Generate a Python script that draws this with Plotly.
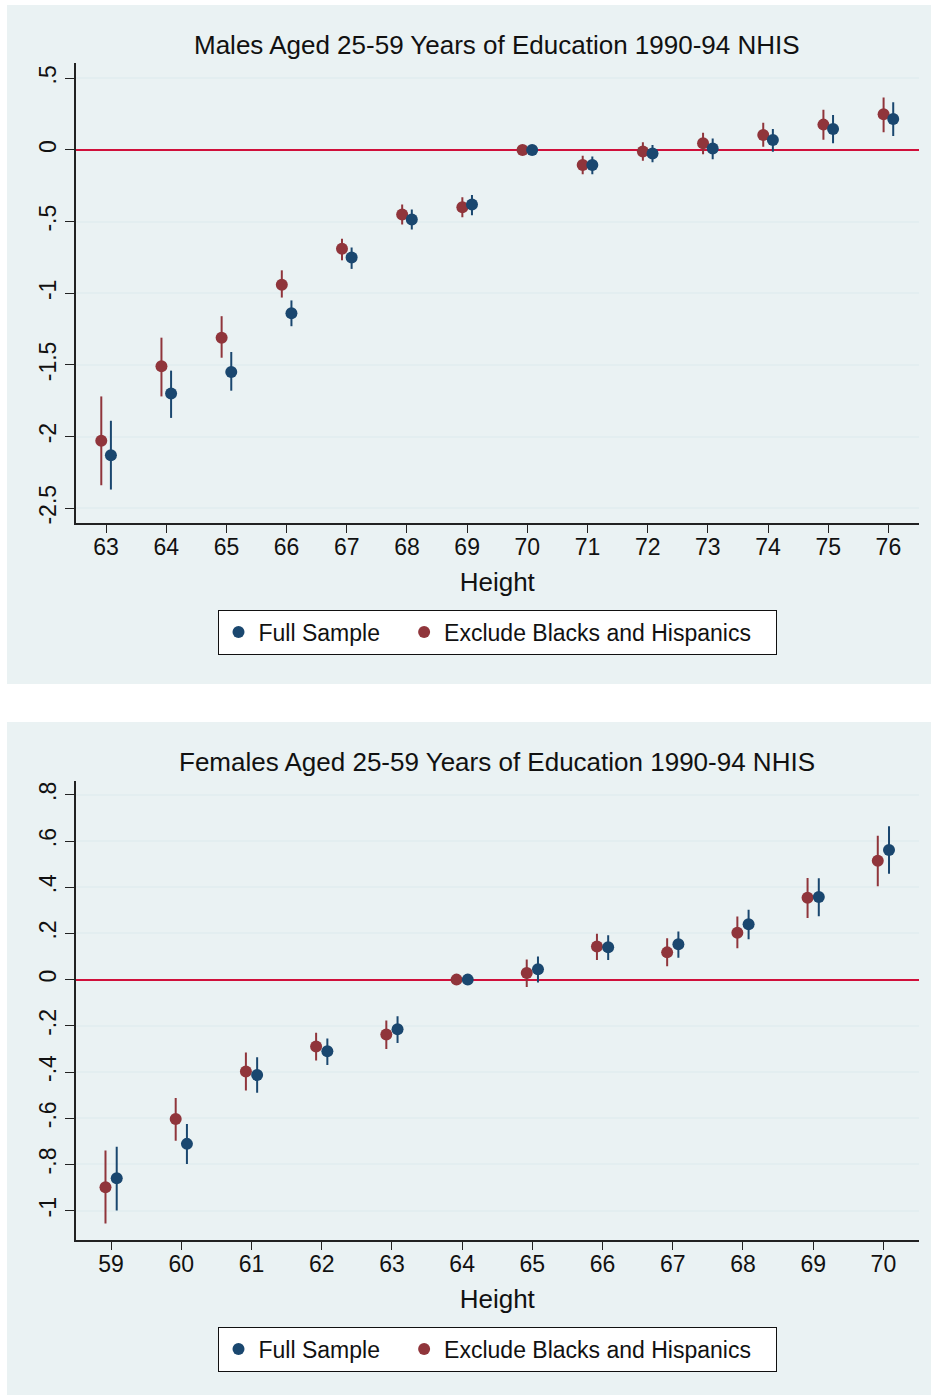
import plotly.graph_objects as go

# ---------------- data ----------------
m_heights = [63, 64, 65, 66, 67, 68, 69, 70, 71, 72, 73, 74, 75, 76]
m_full = [-2.13, -1.70, -1.55, -1.14, -0.75, -0.485, -0.38, 0.0, -0.105, -0.025, 0.01, 0.07, 0.147, 0.217]
m_full_lo = [-2.37, -1.87, -1.68, -1.23, -0.83, -0.555, -0.455, 0.0, -0.17, -0.086, -0.065, -0.012, 0.047, 0.098]
m_full_hi = [-1.89, -1.54, -1.41, -1.05, -0.68, -0.415, -0.315, 0.0, -0.045, 0.035, 0.08, 0.147, 0.245, 0.334]
m_excl = [-2.03, -1.51, -1.31, -0.94, -0.69, -0.45, -0.40, 0.0, -0.105, -0.01, 0.047, 0.105, 0.177, 0.25]
m_excl_lo = [-2.34, -1.72, -1.45, -1.03, -0.77, -0.52, -0.47, 0.0, -0.17, -0.075, -0.03, 0.023, 0.072, 0.124]
m_excl_hi = [-1.72, -1.31, -1.16, -0.84, -0.62, -0.38, -0.33, 0.0, -0.04, 0.054, 0.12, 0.19, 0.28, 0.366]

f_heights = [59, 60, 61, 62, 63, 64, 65, 66, 67, 68, 69, 70]
f_full = [-0.86, -0.711, -0.413, -0.31, -0.215, 0.0, 0.045, 0.14, 0.153, 0.24, 0.358, 0.561]
f_full_lo = [-1.0, -0.798, -0.49, -0.37, -0.274, 0.0, -0.012, 0.085, 0.095, 0.175, 0.274, 0.458]
f_full_hi = [-0.723, -0.625, -0.336, -0.255, -0.159, 0.0, 0.10, 0.192, 0.208, 0.303, 0.439, 0.664]
f_excl = [-0.899, -0.603, -0.398, -0.29, -0.238, 0.0, 0.029, 0.143, 0.118, 0.203, 0.354, 0.515]
f_excl_lo = [-1.056, -0.697, -0.48, -0.35, -0.30, 0.0, -0.032, 0.085, 0.058, 0.136, 0.267, 0.404]
f_excl_hi = [-0.74, -0.512, -0.315, -0.23, -0.177, 0.0, 0.087, 0.199, 0.179, 0.273, 0.44, 0.623]

m_ytick_vals = [0.5, 0, -0.5, -1, -1.5, -2, -2.5]
m_ytick_text = [".5", "0", "-.5", "-1", "-1.5", "-2", "-2.5"]
f_ytick_vals = [0.8, 0.6, 0.4, 0.2, 0, -0.2, -0.4, -0.6, -0.8, -1]
f_ytick_text = [".8", ".6", ".4", ".2", "0", "-.2", "-.4", "-.6", "-.8", "-1"]

series_names = ["Full Sample", "Exclude Blacks and Hispanics"]
titles = ["Males Aged 25-59 Years of Education 1990-94 NHIS",
          "Females Aged 25-59 Years of Education 1990-94 NHIS"]

# ---------------- style ----------------
W, H = 931, 1395
NAVY = "#1a476f"
MAROON = "#90353b"
BG = "#eaf2f3"
GRID = "#e3eef0"
ZERO = "#d0103a"
FONT = "Liberation Sans, Arial, Helvetica, sans-serif"
OFF = 0.08
PAD = "\u00a0\u00a0\u00a0"   # invisible spacing between legend entries


def py(px):
    return 1 - px / H


def px_x(px):
    return px / W


fig = go.Figure()


def add_panel(xs, full, flo, fhi, excl, elo, ehi, xa, ya, legend):
    # red first so blue draws on top
    fig.add_trace(go.Scatter(
        x=[v - OFF for v in xs], y=excl, mode="markers", name=series_names[1] + PAD,
        marker=dict(color=MAROON, size=12),
        error_y=dict(type="data", symmetric=False,
                     array=[h - v for h, v in zip(ehi, excl)],
                     arrayminus=[v - l for l, v in zip(elo, excl)],
                     color=MAROON, thickness=2, width=0),
        xaxis=xa, yaxis=ya, legend=legend, legendrank=2))
    fig.add_trace(go.Scatter(
        x=[v + OFF for v in xs], y=full, mode="markers", name=series_names[0] + PAD,
        marker=dict(color=NAVY, size=12),
        error_y=dict(type="data", symmetric=False,
                     array=[h - v for h, v in zip(fhi, full)],
                     arrayminus=[v - l for l, v in zip(flo, full)],
                     color=NAVY, thickness=2, width=0),
        xaxis=xa, yaxis=ya, legend=legend, legendrank=1))


add_panel(m_heights, m_full, m_full_lo, m_full_hi, m_excl, m_excl_lo, m_excl_hi, "x", "y", "legend")
add_panel(f_heights, f_full, f_full_lo, f_full_hi, f_excl, f_excl_lo, f_excl_hi, "x2", "y2", "legend2")

xdom = [px_x(76), px_x(918.5)]
top_dom = [py(522.5), py(63.3)]
bot_dom = [py(1239.5), py(780.5)]

common_x = dict(showgrid=False, zeroline=False, showline=True, linecolor="#222222", linewidth=1.5,
                ticks="outside", ticklen=9, tickwidth=1.3, tickcolor="#222222",
                ticklabelstandoff=-6,
                tickfont=dict(family=FONT, size=23, color="#111111"),
                title=dict(text="Height", font=dict(family=FONT, size=26, color="#111111"), standoff=14),
                automargin=False, domain=xdom)
common_y = dict(showgrid=True, gridcolor=GRID, gridwidth=2, zeroline=True, zerolinecolor=ZERO,
                zerolinewidth=2, showline=True,
                linecolor="#222222", linewidth=1.5, ticks="outside", ticklen=9, tickwidth=1.3,
                tickcolor="#222222", tickangle=-90,
                tickfont=dict(family=FONT, size=23, color="#111111"), automargin=False)

legend_common = dict(orientation="h", x=px_x(497), xanchor="center", yanchor="middle",
                     bgcolor="white", bordercolor="#111111", borderwidth=1,
                     font=dict(family=FONT, size=23, color="#111111"), traceorder="normal",
                     itemsizing="constant")

fig.update_layout(
    width=W, height=H,
    margin=dict(l=0, r=0, t=0, b=0),
    paper_bgcolor="white", plot_bgcolor="white",
    font=dict(family=FONT, color="#111111"),
    xaxis=dict(common_x, range=[62.5, 76.5], tickvals=m_heights, anchor="y"),
    yaxis=dict(common_y, range=[-2.6, 0.605], tickvals=m_ytick_vals, ticktext=m_ytick_text,
               domain=top_dom, anchor="x"),
    xaxis2=dict(common_x, range=[58.5, 70.5], tickvals=f_heights, anchor="y2"),
    yaxis2=dict(common_y, range=[-1.125, 0.862], tickvals=f_ytick_vals, ticktext=f_ytick_text,
                domain=bot_dom, anchor="x2"),
    legend=dict(legend_common, y=py(632)),
    legend2=dict(legend_common, y=py(1349)),
    showlegend=True,
)

shapes = [
    dict(type="rect", xref="paper", yref="paper", x0=px_x(7), x1=1, y0=py(684), y1=py(5),
         fillcolor=BG, line=dict(width=0), layer="below"),
    dict(type="rect", xref="paper", yref="paper", x0=px_x(7), x1=1, y0=0, y1=py(722),
         fillcolor=BG, line=dict(width=0), layer="below"),
]
fig.update_layout(shapes=shapes)

fig.update_layout(annotations=[
    dict(text=titles[0], x=px_x(497), y=py(45), xref="paper", yref="paper",
         xanchor="center", yanchor="middle", showarrow=False,
         font=dict(family=FONT, size=26, color="#111111")),
    dict(text=titles[1], x=px_x(497), y=py(762), xref="paper", yref="paper",
         xanchor="center", yanchor="middle", showarrow=False,
         font=dict(family=FONT, size=26, color="#111111")),
])

fig.write_html("out.html", post_script="document.body.style.margin='0';",
               config={"displayModeBar": False})
